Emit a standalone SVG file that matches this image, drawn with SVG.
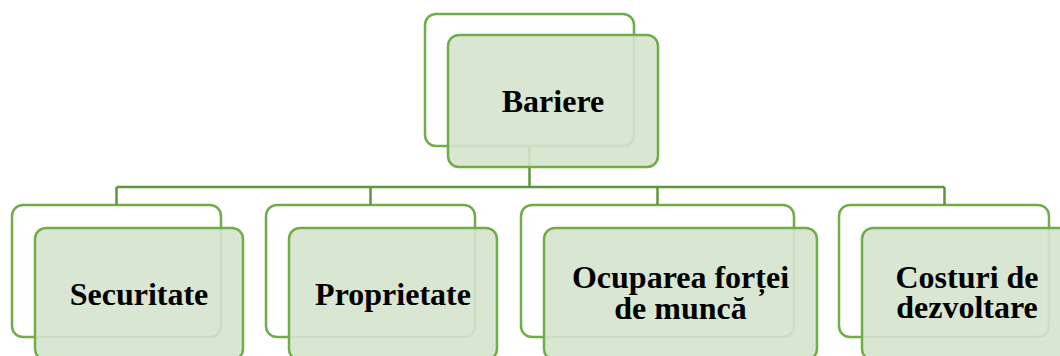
<svg xmlns="http://www.w3.org/2000/svg" width="1060" height="356" viewBox="0 0 1060 356">
<style>
.back{fill:none;stroke:#70AD47;stroke-width:2.5}
.front{fill:#D5E3CD;fill-opacity:0.9;stroke:#70AD47;stroke-width:2.5}
.conn{fill:none;stroke:#5F963C;stroke-width:2.5}
.t{font-family:"Liberation Serif","Times New Roman",serif;font-weight:bold;font-size:32px;fill:#000;text-anchor:middle}
</style>
<rect width="1060" height="356" fill="#fff"/>
<g id="back-layer">
<rect class="back" x="425" y="14" width="209" height="132" rx="11"/>
<rect class="back" x="12" y="205" width="209" height="132" rx="11"/>
<rect class="back" x="266" y="205" width="209" height="132" rx="11"/>
<rect class="back" x="521" y="205" width="273" height="132" rx="11"/>
<rect class="back" x="839" y="205" width="210" height="132" rx="11"/>
</g>
<g id="connectors">
<path class="conn" d="M529.5 146V187M116.5 187H944.5M116.5 187V205M370.5 187V205M657.5 187V205M944.5 187V205"/>
</g>
<g id="node-bariere">
<rect class="front" x="448" y="35" width="210" height="132" rx="11"/>
<text class="t" x="553" y="112">Bariere</text>
</g>
<g id="node-securitate">
<rect class="front" x="35" y="228" width="208" height="132" rx="11"/>
<text class="t" x="139" y="305">Securitate</text>
</g>
<g id="node-proprietate">
<rect class="front" x="289" y="228" width="208" height="132" rx="11"/>
<text class="t" x="393" y="305">Proprietate</text>
</g>
<g id="node-ocuparea">
<rect class="front" x="544" y="228" width="273" height="132" rx="11"/>
<text class="t" x="680.5" y="288">Ocuparea forței</text>
<text class="t" x="680.5" y="319">de muncă</text>
</g>
<g id="node-costuri">
<rect class="front" x="862" y="228" width="210" height="132" rx="11"/>
<text class="t" x="967" y="288">Costuri de</text>
<text class="t" x="967" y="318">dezvoltare</text>
</g>
</svg>
